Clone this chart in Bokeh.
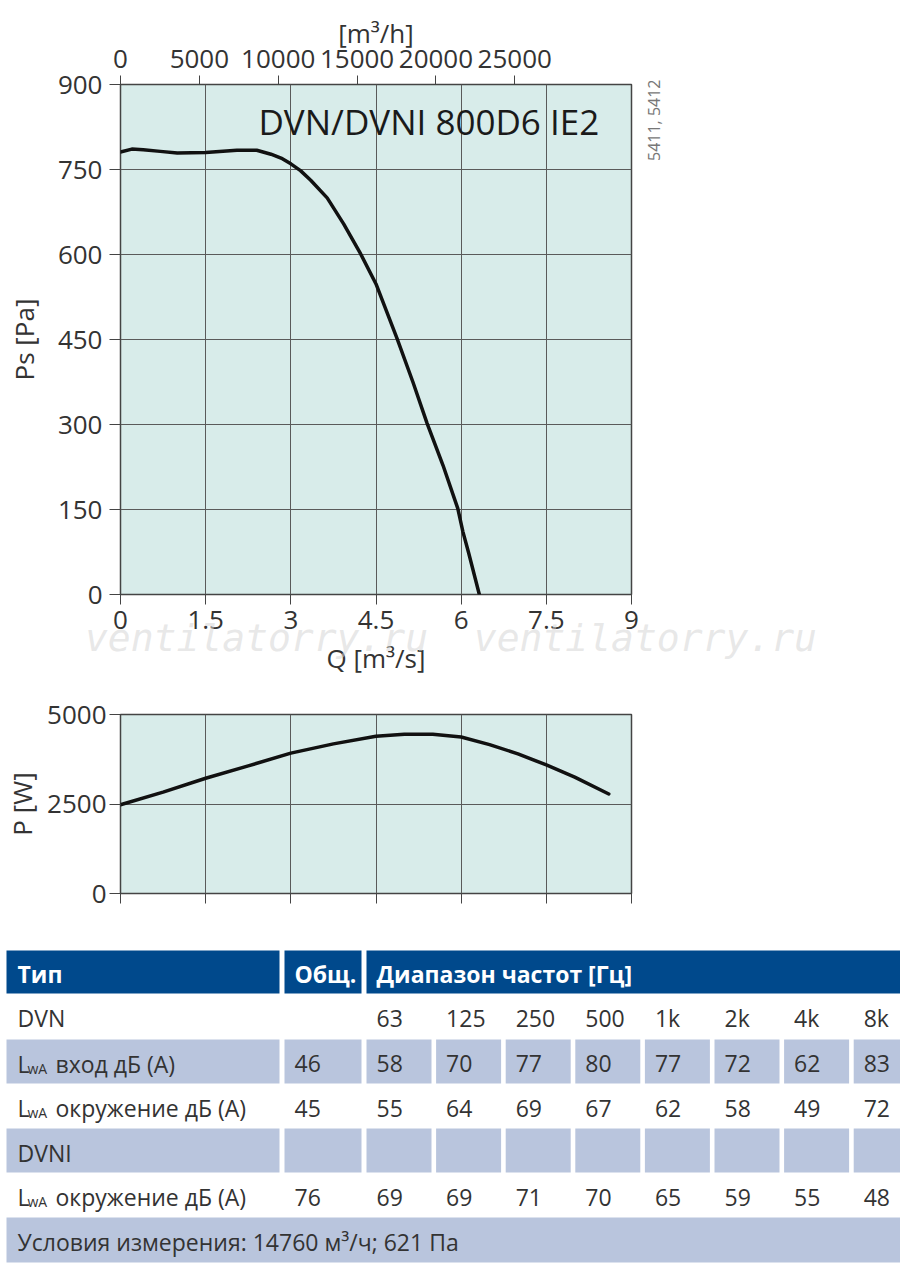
import math
from bokeh.plotting import figure
from bokeh.models import Range1d, LinearAxis, FixedTicker, Label
from bokeh.layouts import column, row
from bokeh.embed import file_html
from bokeh.resources import INLINE
from bokeh.core.properties import value

# ---------------- data ----------------
q_ps = [0, 0.2, 0.4, 0.7, 1.0, 1.5, 2.05, 2.4, 2.65, 2.85, 3.0, 3.17, 3.35, 3.64, 3.93, 4.23,
        4.5, 4.87, 5.15, 5.4, 5.68, 5.94, 6.03, 6.13, 6.32]
ps = [781, 786, 785, 782, 779, 780, 784, 784, 777, 769, 760, 748, 731, 700, 654, 601,
      548, 452, 375, 302, 228, 152, 111, 74, 0]

q_pw = [0, 0.75, 1.5, 2.25, 3.0, 3.75, 4.5, 5.0, 5.5, 6.0, 6.5, 7.0, 7.5, 8.0, 8.6]
pw = [2480, 2830, 3220, 3565, 3920, 4180, 4390, 4450, 4450, 4370, 4160, 3900, 3590, 3250, 2780]

q_ticks = [0, 1.5, 3, 4.5, 6, 7.5, 9]
q_tick_labels = ["0", "1.5", "3", "4.5", "6", "7.5", "9"]
ps_ticks = [0, 150, 300, 450, 600, 750, 900]
mh_ticks = [0, 5000, 10000, 15000, 20000, 25000]
pw_ticks = [0, 2500, 5000]

title_text = "DVN/DVNI 800D6 IE2"
code_text = "5411, 5412"
watermark = "ventilatorry.ru"

# table
head_type = "Тип"
head_total = "Общ."
head_range = "Диапазон частот [Гц]"
freq_labels = ["63", "125", "250", "500", "1k", "2k", "4k", "8k"]
row_dvn = "DVN"
row_dvni = "DVNI"
lwa_main = "L"
lwa_sub = "wA"
lbl_inlet = "вход дБ (A)"
lbl_surr = "окружение дБ (A)"
dvn_inlet_total = "46"
dvn_inlet = ["58", "70", "77", "80", "77", "72", "62", "83"]
dvn_surr_total = "45"
dvn_surr = ["55", "64", "69", "67", "62", "58", "49", "72"]
dvni_surr_total = "76"
dvni_surr = ["69", "69", "71", "70", "65", "59", "55", "48"]
footer = "Условия измерения: 14760 м³/ч; 621 Па"

# ---------------- styles ----------------
FONT = "Open Sans"
TXT = "#333333"
BG = "#d8ecea"
GRID = "#5a5a5a"
HEAD = "#00498c"
SHADE = "#b9c5dd"
FS = "26px"
W = 900


def style_axis(ax, size=FS):
    ax.major_label_text_font = FONT
    ax.major_label_text_font_size = size
    ax.major_label_text_color = TXT
    ax.axis_label_text_font = FONT
    ax.axis_label_text_font_size = size
    ax.axis_label_text_font_style = "normal"
    ax.axis_label_text_color = TXT
    ax.axis_line_color = None
    ax.major_tick_line_color = "#444444"
    ax.major_tick_line_width = 1
    ax.major_tick_in = 0
    ax.minor_tick_line_color = None


def bare_axis(ax):
    ax.major_tick_out = 0
    ax.major_tick_in = 0
    ax.axis_line_color = None
    ax.major_tick_line_color = None
    ax.minor_tick_line_color = None


# ---------------- main chart ----------------
p1 = figure(frame_width=511, frame_height=510,
            min_border_left=120, min_border_right=W - 120 - 511,
            min_border_top=84, min_border_bottom=90,
            x_range=Range1d(0, 9), y_range=Range1d(0, 900),
            output_backend="svg", toolbar_location=None,
            background_fill_color=BG, border_fill_color="white",
            outline_line_color="#444444", outline_line_width=1.5)
p1.extra_x_ranges = {"mh": Range1d(0, 9 * 3600)}
p1.xaxis.ticker = FixedTicker(ticks=q_ticks)
p1.xaxis.major_label_overrides = {float(t): s for t, s in zip(q_ticks, q_tick_labels)}
p1.xaxis.axis_label = "Q [m³/s]"
p1.yaxis.ticker = FixedTicker(ticks=ps_ticks)
p1.yaxis.axis_label = "Ps [Pa]"
style_axis(p1.xaxis[0])
style_axis(p1.yaxis[0])
p1.xaxis.major_tick_out = 10
p1.xaxis.major_label_standoff = 6
p1.xaxis.axis_label_standoff = 8
p1.yaxis.major_tick_out = 11
p1.yaxis.major_label_standoff = 7
p1.yaxis.axis_label_standoff = 13

top = LinearAxis(x_range_name="mh", ticker=FixedTicker(ticks=mh_ticks), axis_label="[m³/h]")
style_axis(top)
top.major_tick_out = 9
top.major_label_standoff = 8
top.axis_label_standoff = -4
p1.add_layout(top, "above")

# vertical drawing code on the right side
code_axis = LinearAxis(ticker=FixedTicker(ticks=[765]), major_label_overrides={765: code_text})
bare_axis(code_axis)
code_axis.major_label_orientation = math.pi / 2
code_axis.major_label_text_font = FONT
code_axis.major_label_text_font_size = "16px"
code_axis.major_label_text_color = "#777777"
code_axis.major_label_standoff = 22
p1.add_layout(code_axis, "right")

# watermark as a faint label row under the x axis
NB = "\u00a0"
wm_axis = LinearAxis(ticker=FixedTicker(ticks=[5.82]),
                     major_label_overrides={5.82: watermark + NB * 2 + watermark})
bare_axis(wm_axis)
wm_axis.major_label_text_font = "DejaVu Sans Mono"
wm_axis.major_label_text_font_size = "38px"
wm_axis.major_label_text_font_style = "italic"
wm_axis.major_label_text_color = "#d4d4d4"
wm_axis.major_label_text_alpha = 0.55
wm_axis.major_label_standoff = -63
p1.add_layout(wm_axis, "below")

for g in (p1.xgrid, p1.ygrid):
    g.grid_line_color = GRID
    g.grid_line_width = 1
p1.xgrid.ticker = FixedTicker(ticks=q_ticks)
p1.ygrid.ticker = FixedTicker(ticks=ps_ticks)

p1.line(q_ps, ps, line_width=3.5, line_color="#111111", line_join="round", line_cap="round")

p1.add_layout(Label(x=2.43, y=834, text=title_text, text_font=FONT, text_font_size="35px",
                    text_color="#1a1a1a", text_baseline="middle", text_align="left"))

# ---------------- power chart ----------------
p2 = figure(frame_width=511, frame_height=179,
            min_border_left=120, min_border_right=W - 120 - 511,
            min_border_top=30, min_border_bottom=47,
            x_range=Range1d(0, 9), y_range=Range1d(0, 5000),
            output_backend="svg", toolbar_location=None,
            background_fill_color=BG, border_fill_color="white",
            outline_line_color="#444444", outline_line_width=1.5)
p2.xaxis.ticker = FixedTicker(ticks=q_ticks)
p2.yaxis.ticker = FixedTicker(ticks=pw_ticks)
p2.yaxis.axis_label = "P [W]"
style_axis(p2.xaxis[0])
style_axis(p2.yaxis[0])
p2.xaxis.major_label_overrides = {float(t): "" for t in q_ticks}
p2.xaxis.major_tick_out = 10
p2.yaxis.major_tick_out = 11
p2.yaxis.major_label_standoff = 3
p2.yaxis.axis_label_standoff = 4
for g in (p2.xgrid, p2.ygrid):
    g.grid_line_color = GRID
    g.grid_line_width = 1
p2.xgrid.ticker = FixedTicker(ticks=q_ticks)
p2.ygrid.ticker = FixedTicker(ticks=pw_ticks)
p2.line(q_pw, pw, line_width=3.5, line_color="#111111", line_join="round", line_cap="round")

# ---------------- table ----------------
T_W, T_H = W, 324
Y0 = 940
p3 = figure(width=T_W, height=T_H, min_border=0,
            x_range=Range1d(0, T_W), y_range=Range1d(T_H, 0),
            output_backend="svg", toolbar_location=None,
            outline_line_color=None, background_fill_color="white",
            border_fill_color="white")
p3.axis.visible = False
p3.grid.visible = False

head_band = (950, 993)
row_bands = [(993, 1038), (1039, 1083), (1083, 1128), (1128, 1172), (1172, 1217), (1217, 1262)]
col_bands = [(6, 279), (284, 361)] + [(366 + 69.6 * i, 366 + 69.6 * i + 65) for i in range(7)] + [(853.2, 900)]


def fy(v):
    return v - Y0


hl, hr, ht, hb = [], [], [], []
for (a, b) in [(6, 279), (284, 361), (366, 900)]:
    hl.append(a); hr.append(b); ht.append(fy(head_band[0])); hb.append(fy(head_band[1]))
p3.quad(left=hl, right=hr, top=ht, bottom=hb, fill_color=HEAD, line_color=None)

sl, sr, st, sb = [], [], [], []
for ri in (1, 3):
    t, b = row_bands[ri]
    for (a, c) in col_bands:
        sl.append(a); sr.append(c); st.append(fy(t)); sb.append(fy(b))
t, b = row_bands[5]
sl.append(6); sr.append(900); st.append(fy(t)); sb.append(fy(b))
p3.quad(left=sl, right=sr, top=st, bottom=sb, fill_color=SHADE, line_color=None)


def mid(band, dy=2.0):
    return fy((band[0] + band[1]) / 2 + dy)


def txt(xs, ys, texts, color=TXT, size="23px", style="normal"):
    p3.text(x=xs, y=ys, text=texts, text_font=value(FONT), text_font_size=size,
            text_color=color, text_baseline="middle", text_align="left",
            text_font_style=style)


LBL_X = 17
col_text_x = [a + 10 for (a, c) in col_bands]

hy = mid(head_band)
txt([LBL_X, 294, 376], [hy] * 3, [head_type, head_total, head_range], color="white", style="bold")

y0 = mid(row_bands[0])
txt([LBL_X] + col_text_x[2:], [y0] * 9, [row_dvn] + freq_labels)

for ri, label, total, vals in [(1, lbl_inlet, dvn_inlet_total, dvn_inlet),
                               (2, lbl_surr, dvn_surr_total, dvn_surr),
                               (4, lbl_surr, dvni_surr_total, dvni_surr)]:
    yy = mid(row_bands[ri])
    txt([LBL_X], [yy], [lwa_main])
    txt([27], [mid(row_bands[ri], 6.5)], [lwa_sub], size="14px")
    txt([55], [yy], [label])
    txt(col_text_x[1:], [yy] * 9, [total] + vals)

txt([LBL_X], [mid(row_bands[3])], [row_dvni])
txt([LBL_X], [mid(row_bands[5])], [footer])

layout = column(p1, p2, row(p3), spacing=0)
open("out.html", "w").write(file_html(layout, INLINE))
